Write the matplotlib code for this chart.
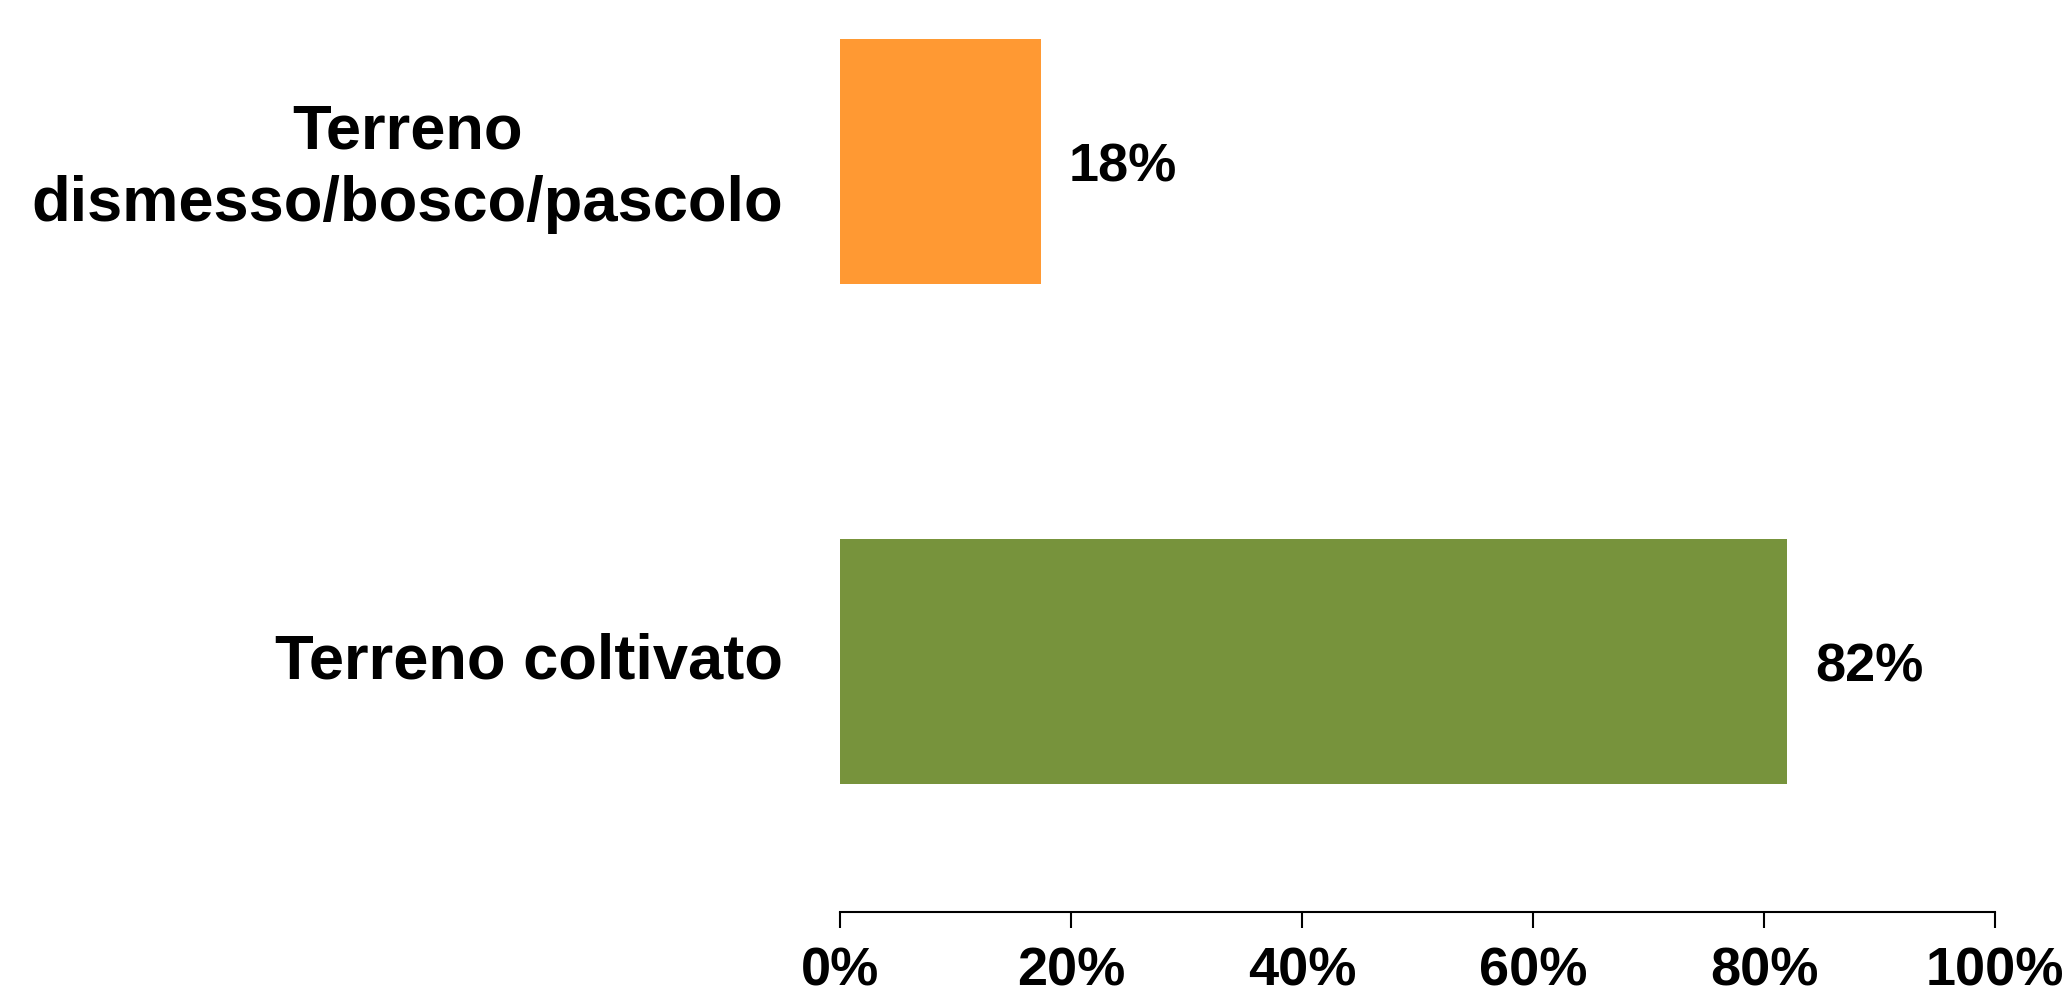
import matplotlib.pyplot as plt

plt.rcParams['font.family'] = ['Liberation Sans', 'DejaVu Sans']
plt.rcParams['font.weight'] = 'bold'

# data, bottom to top
categories = ['Terreno coltivato', 'Terreno\ndismesso/bosco/pascolo']
values = [82.0, 17.4]
value_labels = ['82%', '18%']
colors = ['#77933C', '#FF9933']
ticks = [0, 20, 40, 60, 80, 100]
tick_labels = ['0%', '20%', '40%', '60%', '80%', '100%']

fig = plt.figure(figsize=(20.71, 9.99), dpi=100)
ax = fig.add_axes([840 / 2071, 87 / 999, 1155 / 2071, 876 / 999])

pos = list(range(len(categories)))
ax.barh(pos, values, height=0.49, color=colors)

# value labels sit a touch below the bar centre in the original
for p, v, lab in zip(pos, values, value_labels):
    ax.text(v + 2.4, p - 0.012, lab, va='center', ha='left', fontsize=39,
            fontweight='bold')

# category labels drawn as annotations so they can be nudged a bit
ax.set_yticks([])
for p, cat in zip(pos, categories):
    ax.annotate(cat, xy=(0, p), xycoords=('axes fraction', 'data'),
                xytext=(-41, 4.5), textcoords='offset points',
                ha='right', va='center_baseline', multialignment='center',
                linespacing=1.3, fontsize=45.5, fontweight='bold')

ax.set_xticks(ticks)
ax.set_xticklabels(tick_labels, fontsize=39, fontweight='bold')
ax.tick_params(axis='x', direction='out', length=11.5, width=1.5, pad=13)

ax.set_xlim(0, 100)
ax.set_ylim(-0.5, 1.25)

for s in ['top', 'right', 'left']:
    ax.spines[s].set_visible(False)
ax.spines['bottom'].set_linewidth(1.5)

fig.savefig('out.png', dpi=100)
